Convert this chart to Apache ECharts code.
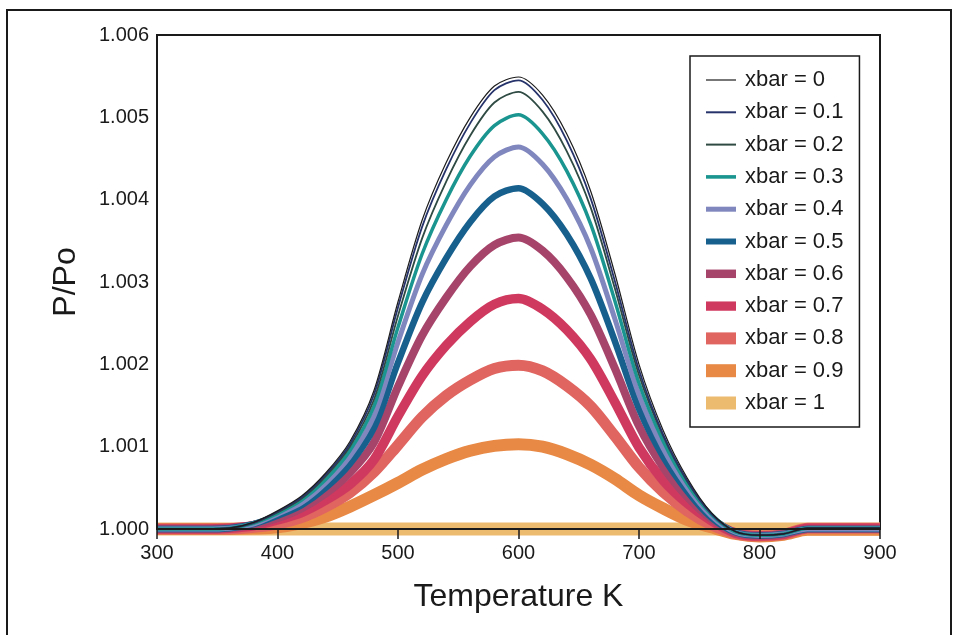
<!DOCTYPE html>
<html><head><meta charset="utf-8">
<script src="https://cdn.jsdelivr.net/npm/echarts@6/dist/echarts.min.js"></script>
<style>html,body{margin:0;padding:0;background:#fff}#c{width:959px;height:635px}</style>
</head><body><div id="c"></div>
<script>
// Temperature grid (K)
const temperatureK = [300,320,340,360,380,400,420,440,460,480,500,520,540,560,580,600,620,640,660,680,700,720,740,760,780,800,820,840,860,880,900];
const seriesNames = ['xbar = 0','xbar = 0.1','xbar = 0.2','xbar = 0.3','xbar = 0.4','xbar = 0.5','xbar = 0.6','xbar = 0.7','xbar = 0.8','xbar = 0.9','xbar = 1'];
const yTickLabels = ['1.000','1.001','1.002','1.003','1.004','1.005','1.006'];

// P/Po values for each xbar
const pp_x00 = [1,1,1,1.00001,1.00008,1.00022,1.0004,1.00068,1.00106,1.00168,1.00276,1.00375,1.00445,1.005,1.00538,1.00549,1.00527,1.0048,1.0041,1.0031,1.002,1.0012,1.00062,1.0002,0.99997,0.999925,0.99994,1.00001,1.00001,1.00001,1.00001];
const pp_x01 = [1,1,1,1.00001,1.000075,1.00021,1.000385,1.00066,1.00103,1.00163,1.00269,1.00367,1.00437,1.00493,1.00533,1.00545,1.00521,1.00472,1.00401,1.00301,1.00193,1.00115,1.00059,1.000185,0.99997,0.999925,0.99994,1.00001,1.00001,1.00001,1.00001];
const pp_x02 = [1,1,1,1.00001,1.00007,1.0002,1.00037,1.00064,1.001,1.00157,1.00259,1.00353,1.00422,1.00478,1.00518,1.00531,1.00507,1.00459,1.0039,1.00292,1.00187,1.00113,1.00058,1.00019,0.99997,0.999925,0.99994,1.00001,1.00001,1.00001,1.00001];
const pp_x03 = [1,1,1,1.00001,1.00007,1.00019,1.00035,1.0006,1.00095,1.00149,1.00245,1.00334,1.004,1.00453,1.0049,1.00503,1.0048,1.00435,1.0037,1.00277,1.00177,1.00107,1.00055,1.00018,0.999965,0.999925,0.99994,1.00001,1.00001,1.00001,1.00001];
const pp_x04 = [1,1,1,1.00001,1.00006,1.00018,1.00032,1.00056,1.00088,1.00137,1.00227,1.00309,1.00369,1.00418,1.00452,1.00464,1.00443,1.00401,1.00341,1.00255,1.00163,1.00098,1.00051,1.00016,0.99996,0.999922,0.99994,1,1,1,1];
const pp_x05 = [1,1,1,1.00001,1.00006,1.00016,1.00029,1.0005,1.00079,1.00123,1.00202,1.00275,1.00329,1.00373,1.00404,1.00414,1.00395,1.00358,1.00304,1.00228,1.00146,1.00088,1.00046,1.00014,0.99996,0.99992,0.99994,1,1,1,1];
const pp_x06 = [1,1,1,1.00001,1.00005,1.00013,1.00025,1.00043,1.00068,1.00105,1.00173,1.00235,1.00281,1.00319,1.00345,1.00354,1.00338,1.00306,1.0026,1.00195,1.00125,1.00075,1.00039,1.00012,0.999955,0.99992,0.99994,1,1,1,1];
const pp_x07 = [1,1,1,1.00001,1.00004,1.00011,1.0002,1.00035,1.00054,1.00084,1.00137,1.00186,1.00223,1.00252,1.00273,1.0028,1.00267,1.00242,1.00206,1.00154,1.00099,1.00059,1.00031,1.0001,0.99995,0.999915,0.999935,1.00001,1.00001,1.00001,1.00001];
const pp_x08 = [1,1,1,1,1.00002,1.00006,1.00014,1.00027,1.00044,1.00069,1.00102,1.00136,1.00162,1.00181,1.00195,1.00199,1.00192,1.00174,1.00149,1.00113,1.00075,1.00045,1.00022,1.00005,0.999945,0.999915,0.999935,1.00001,1.00001,1.00001,1.00001];
const pp_x09 = [1,1,1,1,1.000005,1.00002,1.00007,1.00015,1.00027,1.00041,1.00056,1.00072,1.00085,1.00095,1.00101,1.00103,1.001,1.00091,1.00078,1.00061,1.00041,1.00025,1.00011,1.00002,0.99994,0.99991,0.99993,0.99999,0.99999,0.99999,0.99999];
const pp_x10 = [1,1,1,1,1,1,1,1,1,1,1,1,1,1,1,1,1,1,1,1,1,1,1,1,1,1,1,1,1,1,1];

const allValues = [pp_x00,pp_x01,pp_x02,pp_x03,pp_x04,pp_x05,pp_x06,pp_x07,pp_x08,pp_x09,pp_x10];
const colors = ['#1c1c1c','#26336b','#2e4a42','#1b958f','#8087bf','#17608e','#a6446a','#d0395f','#e0645f','#e88945','#edbb70'];
const widths = [1.2,1.8,1.8,3.5,5,6.5,8,9.5,11,12,13];
const legendThick = [1.2,2,2,3.6,5,6,8.5,9.3,12,13,13];

const FONT = '"Liberation Sans", Arial, Helvetica, sans-serif';
const TXT = '#1a1a1a';

const series = seriesNames.map((name, i) => ({
  name: name,
  type: 'line',
  data: temperatureK.map((t, k) => [t, allValues[i][k]]),
  showSymbol: false,
  symbol: 'none',
  smooth: 0.3,
  clip: false,
  silent: true,
  z: 20 - i,
  lineStyle: { color: colors[i], width: widths[i], cap: 'butt', join: 'round' },
  itemStyle: { color: colors[i] },
  emphasis: { disabled: true }
}));

const chart = echarts.init(document.getElementById('c'), null, { renderer: 'canvas' });
chart.setOption({
  animation: false,
  backgroundColor: '#ffffff',
  textStyle: { fontFamily: FONT },
  graphic: [{
    type: 'rect', z: 100, silent: true,
    shape: { x: 7, y: 10, width: 944, height: 660 },
    style: { fill: 'none', stroke: '#1a1a1a', lineWidth: 2 }
  }],
  grid: { left: 157, right: 79, top: 35, bottom: 106, show: true, borderColor: '#1a1a1a', borderWidth: 2, backgroundColor: 'transparent' },
  legend: {
    orient: 'vertical', left: 690, top: 56,
    itemWidth: 30, itemHeight: 14, itemGap: 10.3,
    padding: [13, 16, 13, 16],
    borderColor: '#1a1a1a', borderWidth: 1.5,
    selectedMode: false,
    symbolKeepAspect: true,
    textStyle: { fontSize: 22, color: TXT, fontFamily: FONT, lineHeight: 22, padding: [0, 0, 0, 4] },
    data: seriesNames.map((n, i) => ({
      name: n,
      icon: 'path://M0,0H30V' + legendThick[i] + 'H0Z',
      itemStyle: { color: colors[i] }
    }))
  },
  xAxis: {
    type: 'value', min: 300, max: 900, interval: 100, z: 50,
    name: 'Temperature K', nameLocation: 'middle', nameGap: 52,
    nameTextStyle: { fontSize: 32, color: TXT, fontFamily: FONT },
    axisLine: { onZero: false, lineStyle: { color: TXT, width: 2 } },
    axisTick: { show: true, length: 10, inside: false, lineStyle: { color: TXT, width: 1.5 } },
    axisLabel: { fontSize: 20, margin: 14, color: TXT, fontFamily: FONT },
    splitLine: { show: false }
  },
  yAxis: {
    type: 'value', min: 1, max: 1.006, interval: 0.001, z: 50,
    name: 'P/Po', nameLocation: 'middle', nameGap: 75,
    nameTextStyle: { fontSize: 32, color: TXT, fontFamily: FONT },
    axisLine: { show: true, onZero: false, lineStyle: { color: TXT, width: 2 } },
    axisTick: { show: false },
    axisLabel: { fontSize: 20, margin: 8, color: TXT, fontFamily: FONT,
      formatter: (v) => yTickLabels[Math.round((v - 1) * 1000)] || v.toFixed(3) },
    splitLine: { show: false }
  },
  series: series
});
</script></body></html>
